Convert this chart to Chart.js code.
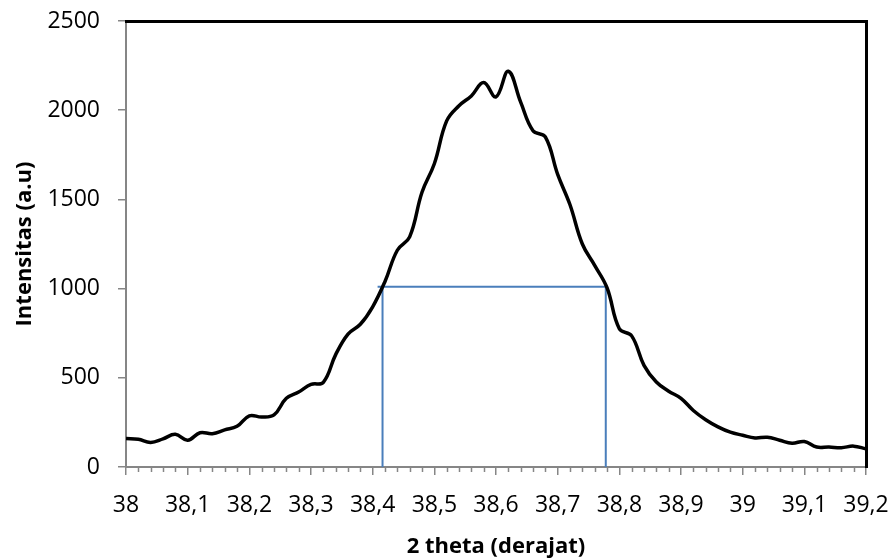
<!DOCTYPE html>
<html>
<head>
<meta charset="utf-8">
<script src="https://cdn.jsdelivr.net/npm/chart.js@4"></script>
<style>
  html, body { margin: 0; padding: 0; background: #ffffff; }
  #wrap { width: 895px; height: 560px; }
</style>
</head>
<body>
<div id="wrap"><canvas id="c" width="895" height="560"></canvas></div>
<script>
// ---- data ----
const theta = [
  38.00, 38.02, 38.04, 38.06, 38.08, 38.10, 38.12, 38.14, 38.16, 38.18,
  38.20, 38.22, 38.24, 38.26, 38.28, 38.30, 38.32, 38.34, 38.36, 38.38,
  38.40, 38.42, 38.44, 38.46, 38.48, 38.50, 38.52, 38.54, 38.56, 38.58,
  38.60, 38.62, 38.64, 38.66, 38.68, 38.70, 38.72, 38.74, 38.76, 38.78,
  38.80, 38.82, 38.84, 38.86, 38.88, 38.90, 38.92, 38.94, 38.96, 38.98,
  39.00, 39.02, 39.04, 39.06, 39.08, 39.10, 39.12, 39.14, 39.16, 39.18,
  39.20
];
const intensity = [
  160, 155, 138, 158, 183, 150, 192, 187, 208, 228,
  287, 280, 292, 385, 420, 463, 475, 630, 745, 800,
  898, 1040, 1215, 1290, 1540, 1700, 1940, 2025, 2080, 2155,
  2075, 2218, 2045, 1885, 1850, 1640, 1470, 1250, 1130, 1005,
  775, 735, 570, 476, 425, 385, 317, 265, 225, 195,
  178, 163, 167, 150, 133, 143, 112, 112, 108, 117,
  102
];
// FWHM marker lines
const halfMaxLevel = [1010];
const fwhmLeft = [38.416];
const fwhmRight = [38.778];
const fwhmHorizontalStart = [38.408];
const fwhmHorizontalEnd = [38.779];
// axes
const xMin = 38, xMax = 39.2, xMajorStep = 0.1, xMinorStep = 0.02;
const yMin = 0, yMax = 2500, yStep = 500;

const curvePoints = theta.map((t, i) => ({ x: t, y: intensity[i] }));
const blue = '#4a7ebb';
const axisGray = '#868686';
const FONT = "'Open Sans', 'Noto Sans', sans-serif";

const minorTicks = {
  id: 'minorTicks',
  afterDraw(chart) {
    const xs = chart.scales.x;
    const ctx = chart.ctx;
    const y0 = chart.chartArea.bottom;
    const n = Math.round((xMax - xMin) / xMinorStep);
    ctx.save();
    ctx.strokeStyle = axisGray;
    ctx.lineWidth = 1.5;
    for (let i = 0; i <= n; i++) {
      if (i % 5 === 0) continue;
      const px = Math.round(xs.getPixelForValue(xMin + i * xMinorStep)) + 0.5;
      ctx.beginPath();
      ctx.moveTo(px, y0);
      ctx.lineTo(px, y0 + 5);
      ctx.stroke();
    }
    ctx.restore();
  }
};

new Chart(document.getElementById('c'), {
  type: 'scatter',
  data: {
    datasets: [
      {
        label: 'curve',
        data: curvePoints,
        showLine: true,
        borderColor: '#000000',
        borderWidth: 3.5,
        pointRadius: 0,
        tension: 0.4,
        order: 0
      },
      {
        label: 'half max',
        data: [{ x: fwhmHorizontalStart[0], y: halfMaxLevel[0] }, { x: fwhmHorizontalEnd[0], y: halfMaxLevel[0] }],
        showLine: true, borderColor: blue, borderWidth: 2, pointRadius: 0, tension: 0, order: 1
      },
      {
        label: 'left',
        data: [{ x: fwhmLeft[0], y: halfMaxLevel[0] }, { x: fwhmLeft[0], y: 0 }],
        showLine: true, borderColor: blue, borderWidth: 2, pointRadius: 0, tension: 0, order: 1
      },
      {
        label: 'right',
        data: [{ x: fwhmRight[0], y: halfMaxLevel[0] }, { x: fwhmRight[0], y: 0 }],
        showLine: true, borderColor: blue, borderWidth: 2, pointRadius: 0, tension: 0, order: 1
      }
    ]
  },
  options: {
    responsive: false,
    animation: false,
    devicePixelRatio: 1,
    layout: { padding: { left: 0, top: 21, right: 29, bottom: 0 } },
    plugins: { legend: { display: false }, tooltip: { enabled: false } },
    scales: {
      x: {
        type: 'linear',
        position: 'bottom',
        min: xMin, max: xMax,
        afterFit(s) { s.height = 93; s.paddingLeft = 0; s.paddingRight = 0; },
        border: { display: true, color: axisGray, width: 2 },
        grid: { display: true, drawOnChartArea: false, drawTicks: true, tickLength: 8, color: axisGray, lineWidth: 1.5 },
        ticks: {
          stepSize: xMajorStep, autoSkip: false, maxRotation: 0, padding: 17,
          color: '#000', font: { family: FONT, size: 23 },
          callback: (v) => String(Number(Number(v).toFixed(1))).replace('.', ',')
        },
        title: {
          display: true, text: '2 theta (derajat)', color: '#000',
          font: { family: FONT, size: 22, weight: 'bold' },
          padding: { top: 0, bottom: 0 }
        }
      },
      y: {
        type: 'linear',
        position: 'left',
        min: yMin, max: yMax,
        afterFit(s) { s.width = 126; s.paddingTop = 0; s.paddingBottom = 0; },
        border: { display: true, color: axisGray, width: 2 },
        grid: { display: true, drawOnChartArea: false, drawTicks: true, tickLength: 8, color: axisGray, lineWidth: 1.5 },
        ticks: {
          stepSize: yStep, padding: 18, color: '#000', font: { family: FONT, size: 23 },
          callback: (v) => String(v)
        },
        title: {
          display: true, text: 'Intensitas (a.u)', color: '#000',
          font: { family: FONT, size: 22, weight: 'bold' },
          padding: { top: 12, bottom: 0 }
        }
      },
      xTop: {
        type: 'linear', position: 'top', min: xMin, max: xMax,
        afterFit(s) { s.height = 0; },
        border: { display: true, color: '#000', width: 3 },
        grid: { display: false },
        ticks: { display: false }
      },
      yRight: {
        type: 'linear', position: 'right', min: yMin, max: yMax,
        afterFit(s) { s.width = 0; },
        border: { display: true, color: '#000', width: 3 },
        grid: { display: false },
        ticks: { display: false }
      }
    }
  },
  plugins: [minorTicks]
});
</script>
</body>
</html>
